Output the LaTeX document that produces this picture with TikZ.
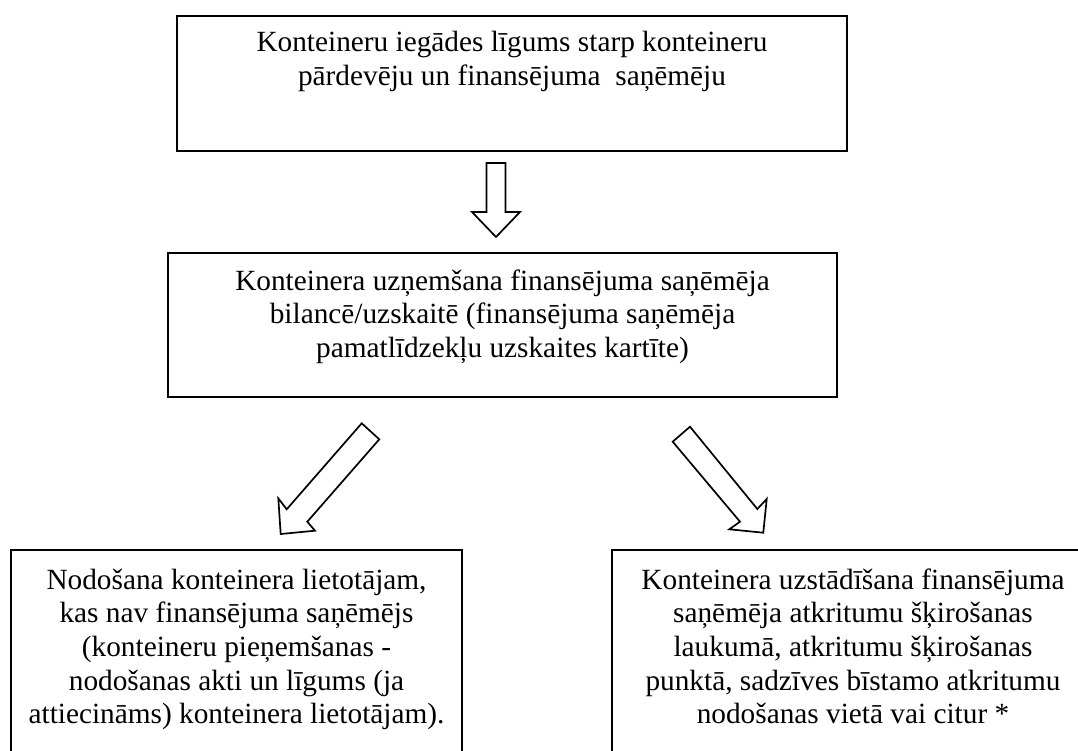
\documentclass[tikz,border=0pt]{standalone}
\usepackage{fontspec}
\setmainfont{Liberation Serif}
\tikzset{
  box/.style={draw=black, line width=1.5pt, inner sep=0pt},
  blockarrow/.style={draw=black, line width=1.7pt, line join=miter, fill=white},
  txt/.style={anchor=base, inner sep=0pt, font=\fontsize{29.3}{33.7}\selectfont},
}
\begin{document}
\begin{tikzpicture}[x=1pt,y=-1pt]
\useasboundingbox (0,0) rectangle (1078,751);
\clip (0,0) rectangle (1078,751);
\fill[white] (0,0) rectangle (1078,751);
% boxes
\node[box, minimum width=670pt, minimum height=135pt] (top) at (512,83.5) {};
\node[box, minimum width=669pt, minimum height=144pt] (mid) at (502.5,325) {};
\node[box, minimum width=451pt, minimum height=250pt] (left) at (236.5,675) {};
\node[box, minimum width=482pt, minimum height=250pt] (right) at (853,675) {};
% top text
\node[txt] (t1) at (512,52) {Konteineru iegādes līgums starp konteineru};
\node[txt] (t2) at (512,86) {pārdevēju un finansējuma~~saņēmēju};
% middle text
\node[txt] (m1) at (502.5,290) {Konteinera uzņemšana finansējuma saņēmēja};
\node[txt] (m2) at (502.5,323.5) {bilancē/uzskaitē (finansējuma saņēmēja};
\node[txt] (m3) at (502.5,357) {pamatlīdzekļu uzskaites kartīte)};
% left text
\node[txt] (l1) at (236.5,589) {Nodošana konteinera lietotājam,};
\node[txt] (l2) at (236.5,622.7) {kas nav finansējuma saņēmējs};
\node[txt] (l3) at (236.5,656.4) {(konteineru pieņemšanas -};
\node[txt] (l4) at (236.5,690.1) {nodošanas akti un līgums (ja};
\node[txt] (l5) at (236.5,723.8) {attiecināms) konteinera lietotājam).};
% right text
\node[txt] (r1) at (853,589) {Konteinera uzstādīšana finansējuma};
\node[txt] (r2) at (853,622.7) {saņēmēja atkritumu šķirošanas};
\node[txt] (r3) at (853,656.4) {laukumā, atkritumu šķirošanas};
\node[txt] (r4) at (853,690.1) {punktā, sadzīves bīstamo atkritumu};
\node[txt] (r5) at (853,723.8) {nodošanas vietā vai citur *};
% block arrows
\draw[blockarrow] (486.5,163) -- (505.5,163) -- (505.5,212) -- (520,212) -- (496,237) -- (472,212) -- (486.5,212) -- cycle;
\draw[blockarrow] (361.7,423.3) -- (379.3,439.3) -- (307.3,521.7) -- (315,530.7) -- (280.7,534) -- (278.3,498.3) -- (286.7,509.3) -- cycle;
\draw[blockarrow] (690,426.7) -- (672.7,441.7) -- (740,521.7) -- (729.3,529.3) -- (763.3,532.7) -- (766.7,499) -- (757.3,509) -- cycle;
\end{tikzpicture}
\end{document}
